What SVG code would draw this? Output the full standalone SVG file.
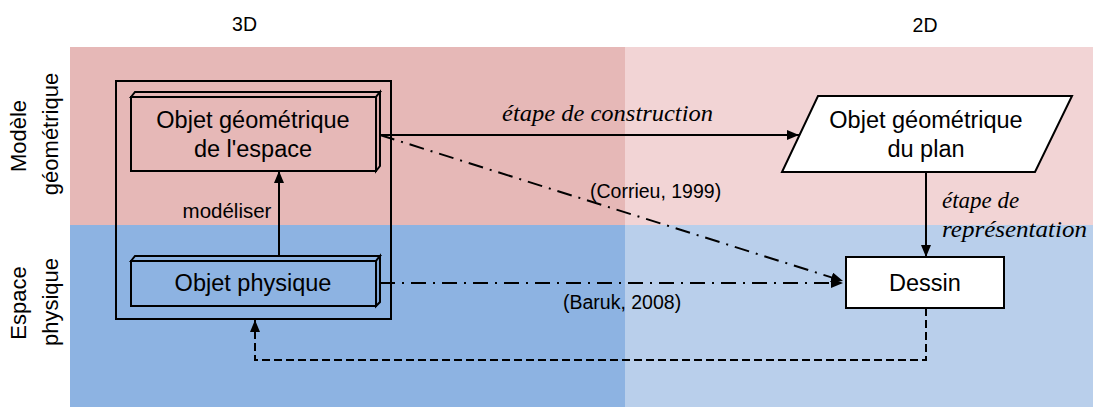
<svg xmlns="http://www.w3.org/2000/svg" width="1093" height="407" viewBox="0 0 1093 407">
<style>
.s{font-family:"Liberation Sans",Arial,sans-serif;fill:#000}
.i{font-family:"Liberation Serif","Times New Roman",serif;font-style:italic;fill:#000}
.box{stroke:#000;stroke-width:2;stroke-linejoin:miter}
.ln{fill:none;stroke:#000;stroke-width:2}
.dd{stroke-dasharray:15 7 2 7}
.da{stroke-dasharray:8 4}
</style>
<defs>
<marker id="ah" viewBox="0 0 12 10" refX="12" refY="5" markerWidth="12" markerHeight="10" markerUnits="userSpaceOnUse" orient="auto">
<path d="M0,0 L12,5 L0,10 Z" fill="#000"/>
</marker>
</defs>
<g id="background">
<rect x="70" y="47" width="555" height="178" fill="#e6b8b7"/>
<rect x="625" y="47" width="468" height="178" fill="#f2d4d5"/>
<rect x="70" y="225" width="555" height="182" fill="#8db3e2"/>
<rect x="625" y="225" width="468" height="182" fill="#b9cfeb"/>
</g>
<g id="headers">
<text class="s" x="244.5" y="31" font-size="19.5" text-anchor="middle">3D</text>
<text class="s" x="925" y="32" font-size="19.5" text-anchor="middle">2D</text>
<text class="s" font-size="22" text-anchor="middle" transform="translate(26,136) rotate(-90)">Modèle</text>
<text class="s" font-size="22" text-anchor="middle" transform="translate(58,134) rotate(-90)">géométrique</text>
<text class="s" font-size="22" text-anchor="middle" transform="translate(26,303) rotate(-90)">Espace</text>
<text class="s" font-size="22" text-anchor="middle" transform="translate(58,302) rotate(-90)">physique</text>
</g>
<g id="group3d">
<rect x="116" y="81" width="275" height="238" fill="none" stroke="#000" stroke-width="2"/>
</g>
<g id="objet-geometrique-espace">
<polygon class="box" points="131,97 135,92 380,92 376,97" fill="#e6b8b7"/>
<polygon class="box" points="376,97 380,92 380,166 376,171" fill="#d9a9a8"/>
<rect class="box" x="131" y="97" width="245" height="74" fill="#e6b8b7"/>
<text class="s" x="253" y="128" font-size="23.5" text-anchor="middle">Objet géométrique</text>
<text class="s" x="253" y="157" font-size="23.5" text-anchor="middle">de l'espace</text>
</g>
<g id="objet-physique">
<polygon class="box" points="131,261 135,256 380,256 376,261" fill="#8db3e2"/>
<polygon class="box" points="376,261 380,256 380,302 376,306" fill="#7fa5d6"/>
<rect class="box" x="131" y="261" width="245" height="45" fill="#8db3e2"/>
<text class="s" x="253" y="291" font-size="23.5" text-anchor="middle">Objet physique</text>
</g>
<g id="objet-geometrique-plan">
<polygon class="box" points="818,96 1072,96 1035,172 782,172" fill="#fff"/>
<text class="s" x="926" y="128" font-size="23.5" text-anchor="middle">Objet géométrique</text>
<text class="s" x="926" y="157" font-size="23.5" text-anchor="middle">du plan</text>
</g>
<g id="dessin">
<rect class="box" x="846" y="257" width="158" height="51" fill="#fff"/>
<text class="s" x="925" y="291" font-size="23.5" text-anchor="middle">Dessin</text>
</g>
<g id="connectors">
<line class="ln" x1="279" y1="256" x2="279" y2="171" marker-end="url(#ah)"/>
<line class="ln" x1="380" y1="135" x2="799" y2="135" marker-end="url(#ah)"/>
<line class="ln" x1="926" y1="172" x2="926" y2="257" marker-end="url(#ah)"/>
<line class="ln dd" x1="380" y1="135" x2="843" y2="281" marker-end="url(#ah)"/>
<line class="ln dd" x1="380" y1="283" x2="843" y2="283" marker-end="url(#ah)"/>
<polyline class="ln da" points="926,308 926,360 255,360 255,320" marker-end="url(#ah)"/>
</g>
<g id="labels">
<text class="s" x="227" y="218" font-size="20.5" text-anchor="middle">modéliser</text>
<text class="i" x="502" y="121" font-size="23" textLength="211" lengthAdjust="spacingAndGlyphs">étape de construction</text>
<text class="s" x="590" y="198" font-size="19.5">(Corrieu, 1999)</text>
<text class="s" x="563" y="309" font-size="19.5">(Baruk, 2008)</text>
<text class="i" x="942" y="208" font-size="23">étape de</text>
<text class="i" x="942" y="237" font-size="23" textLength="145" lengthAdjust="spacingAndGlyphs">représentation</text>
</g>
</svg>
